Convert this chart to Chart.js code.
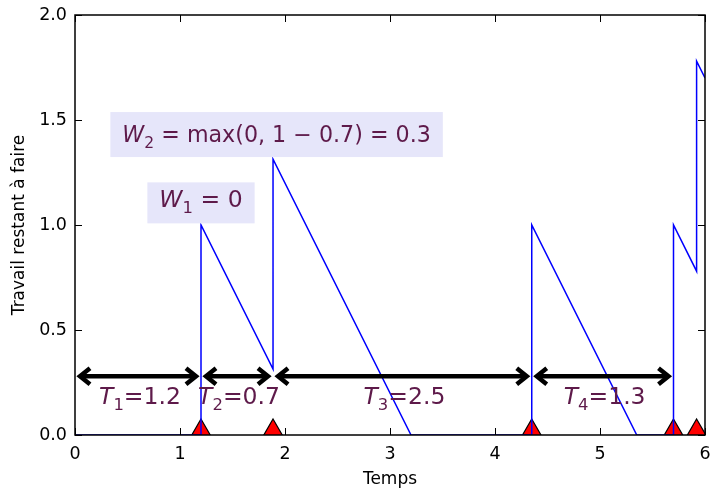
<!DOCTYPE html>
<html><head><meta charset="utf-8">
<script src="https://cdn.jsdelivr.net/npm/chart.js@4"></script>
<style>html,body{margin:0;padding:0;background:#fff;overflow:hidden}#wrap{width:710px;height:489px;position:relative}canvas{display:block}</style>
</head><body><div id="wrap"><canvas id="c"></canvas></div>
<script>
// ---- data ----
const workTimes  = [0, 1.2, 1.2, 1.886, 1.886, 3.2, 4.35, 4.35, 5.35, 5.70, 5.70, 5.92, 5.92, 6.0];
const workValues = [0, 0,   1.0, 0.314, 1.314, 0,   0,    1.0,  0,    0,    1.0,  0.78, 1.78, 1.70];
const arrivalTimes = [1.2, 1.886, 4.35, 5.70, 5.92];
const intervalStarts = [0, 1.2, 1.886, 4.35];
const intervalEnds   = [1.2, 1.886, 4.35, 5.70];
const intervalNames  = ["1", "2", "3", "4"];
const intervalLabels = ["1.2", "0.7", "2.5", "1.3"];
const xTickValues = [0, 1, 2, 3, 4, 5, 6];
const xTickLabels = ["0", "1", "2", "3", "4", "5", "6"];
const yTickValues = [0, 0.5, 1.0, 1.5, 2.0];
const yTickLabels = ["0.0", "0.5", "1.0", "1.5", "2.0"];
const xTitle = "Temps";
const yTitle = "Travail restant à faire";
const annW1 = [{t:"W", it:true}, {t:"1", sub:true}, {t:" = 0"}];
const annW2 = [{t:"W", it:true}, {t:"2", sub:true}, {t:" = max(0, 1 − 0.7) = 0.3"}];

// ---- styling / positions ----
const TEXT_COLOR = "#5e1a4a";
const BOX_COLOR = "#e6e6fa";
const FONT = "'DejaVu Sans', sans-serif";

function mathWidth(ctx, parts, size) {
  let w = 0;
  for (const p of parts) {
    const s = p.sub ? size * 0.7 : size;
    ctx.font = (p.it ? "oblique " : "") + s + "px " + FONT;
    w += ctx.measureText(p.t).width;
  }
  return w;
}
function drawMath(ctx, parts, cx, baseline, size) {
  const w = mathWidth(ctx, parts, size);
  let x = cx - w / 2;
  ctx.textAlign = "left";
  ctx.textBaseline = "alphabetic";
  for (const p of parts) {
    const s = p.sub ? size * 0.7 : size;
    ctx.font = (p.it ? "oblique " : "") + s + "px " + FONT;
    ctx.fillText(p.t, x, baseline + (p.sub ? size * 0.25 : 0));
    x += ctx.measureText(p.t).width;
  }
  return w;
}
function drawArrow(ctx, xa, xb, yy) {
  const hl = 10, hw = 8, sh = 5;
  const x1 = xa + sh, x2 = xb - sh;
  ctx.strokeStyle = "#000";
  ctx.lineWidth = 4.5;
  ctx.lineCap = "butt";
  ctx.lineJoin = "miter";
  ctx.beginPath(); ctx.moveTo(x1 + 1, yy); ctx.lineTo(x2 - 1, yy); ctx.stroke();
  ctx.beginPath(); ctx.moveTo(x1 + hl, yy - hw); ctx.lineTo(x1, yy); ctx.lineTo(x1 + hl, yy + hw); ctx.stroke();
  ctx.beginPath(); ctx.moveTo(x2 - hl, yy - hw); ctx.lineTo(x2, yy); ctx.lineTo(x2 - hl, yy + hw); ctx.stroke();
}

const overlay = {
  id: "overlay",
  afterDatasetsDraw(chart) {
    const {ctx, chartArea: a, scales: {x, y}} = chart;
    ctx.save();
    const arrowY = y.getPixelForValue(0.28);
    const labelBase = y.getPixelForValue(0.148);
    for (let i = 0; i < intervalStarts.length; i++) {
      const xa = x.getPixelForValue(intervalStarts[i]);
      const xb = x.getPixelForValue(intervalEnds[i]);
      drawArrow(ctx, xa, xb, arrowY);
      ctx.fillStyle = TEXT_COLOR;
      drawMath(ctx, [{t:"T", it:true}, {t:intervalNames[i], sub:true}, {t:"=" + intervalLabels[i]}],
               (xa + xb) / 2 + 2, labelBase, 23.5);
    }
    const anns = [
      {parts: annW1, x: 1.2, base: 1.084, top: 25, bot: 16, size: 23.5},
      {parts: annW2, x: 1.92, base: 1.395, top: 30, bot: 15, size: 22.2}
    ];
    for (const an of anns) {
      const cx = x.getPixelForValue(an.x);
      const by = y.getPixelForValue(an.base);
      const w = mathWidth(ctx, an.parts, an.size);
      ctx.fillStyle = BOX_COLOR;
      ctx.fillRect(cx - w / 2 - 12, by - an.top, w + 24, an.top + an.bot);
      ctx.fillStyle = TEXT_COLOR;
      drawMath(ctx, an.parts, cx, by, an.size);
    }
    ctx.strokeStyle = "#000";
    ctx.lineWidth = 1.5;
    ctx.strokeRect(a.left, a.top, a.right - a.left, a.bottom - a.top);
    ctx.lineWidth = 1;
    const tl = 7;
    ctx.beginPath();
    for (const v of xTickValues) {
      const px = Math.round(x.getPixelForValue(v)) + 0.5;
      ctx.moveTo(px, a.bottom); ctx.lineTo(px, a.bottom - tl);
      ctx.moveTo(px, a.top); ctx.lineTo(px, a.top + tl);
    }
    for (const v of yTickValues) {
      const py = Math.round(y.getPixelForValue(v)) + 0.5;
      ctx.moveTo(a.left, py); ctx.lineTo(a.left + tl, py);
      ctx.moveTo(a.right, py); ctx.lineTo(a.right - tl, py);
    }
    ctx.stroke();
    ctx.restore();
  }
};

new Chart(document.getElementById("c"), {
  type: "scatter",
  data: {
    datasets: [
      {
        data: workTimes.map((t, i) => ({x: t, y: workValues[i]})),
        showLine: true, borderColor: "#0000ff", borderWidth: 1.5, pointRadius: 0, tension: 0, clip: 0
      },
      {
        data: arrivalTimes.map(t => ({x: t, y: 0})),
        showLine: false, pointStyle: "triangle", pointRadius: 16,
        backgroundColor: "#ff0000", borderColor: "#000", borderWidth: 1.2, clip: 0
      }
    ]
  },
  options: {
    responsive: true,
    maintainAspectRatio: false,
    animation: false,
    events: [],
    layout: {autoPadding: false, padding: {top: 15, right: 5, left: 0, bottom: 0}},
    plugins: {legend: {display: false}, tooltip: {enabled: false}},
    scales: {
      x: {
        type: "linear", min: 0, max: 6,
        afterBuildTicks: s => { s.ticks = xTickValues.map(v => ({value: v})); },
        afterFit: s => { s.height = 54; s.paddingLeft = 0; s.paddingRight = 0; },
        ticks: {
          callback: (v, i) => xTickLabels[i],
          color: "#000", font: {family: FONT, size: 17.5}, padding: 9, maxRotation: 0
        },
        grid: {display: false, drawTicks: false},
        border: {display: false},
        title: {display: true, text: xTitle, color: "#000", font: {family: FONT, size: 17}, padding: {top: 0, bottom: -1}}
      },
      y: {
        type: "linear", min: 0, max: 2,
        afterBuildTicks: s => { s.ticks = yTickValues.map(v => ({value: v})); },
        afterFit: s => { s.width = 75; s.paddingTop = 0; s.paddingBottom = 0; },
        ticks: {
          callback: (v, i) => yTickLabels[i],
          color: "#000", font: {family: FONT, size: 17.5}, padding: 8
        },
        grid: {display: false, drawTicks: false},
        border: {display: false},
        title: {display: true, text: yTitle, color: "#000", font: {family: FONT, size: 17}, padding: {top: 9, bottom: 0}}
      }
    }
  },
  plugins: [overlay]
});
</script>
</body></html>
